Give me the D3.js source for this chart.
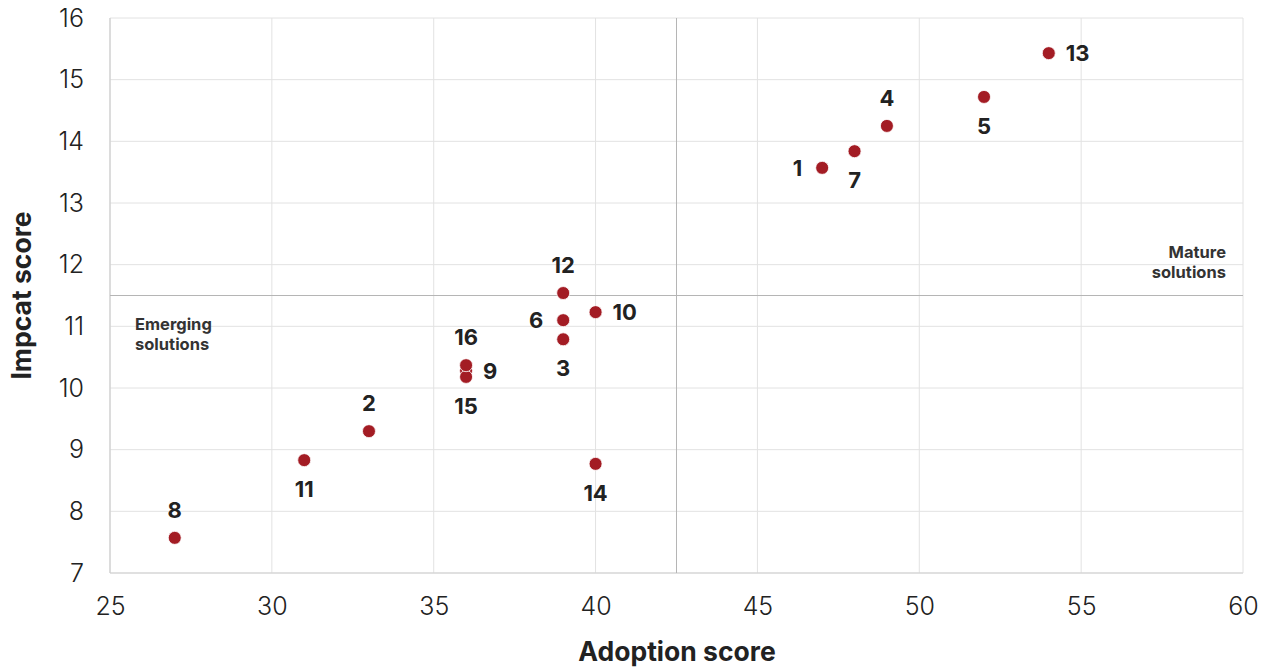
<!DOCTYPE html>
<html><head><meta charset="utf-8">
<script src="https://cdn.jsdelivr.net/npm/d3@7"></script>
<style>body{margin:0;background:#fff}svg{display:block}</style>
</head><body><svg id="c" width="1275" height="668"></svg>
<script>
const ids     = ["1","2","3","4","5","6","7","8","9","10","11","12","13","14","15","16"];
const adoption= [47,33,39,49,52,39,48,27,36,40,31,39,54,40,36,36];
const impact  = [13.57,9.30,10.79,14.25,14.72,11.10,13.84,7.57,10.28,11.23,8.83,11.54,15.43,8.77,10.18,10.37];
const labelPos= ["left","above","below","above","below","left","below","above","right","right","below","above","right","below","below","above"];
const xTicks  = [25,30,35,40,45,50,55,60];
const yTicks  = [7,8,9,10,11,12,13,14,15,16];
const xDivide = 42.5, yDivide = 11.5;

const svg = d3.select("#c");
const L=110,R=1243,T=18,B=573;
const x = d3.scaleLinear().domain([25,60]).range([L,R]);
const y = d3.scaleLinear().domain([7,16]).range([B,T]);
const font = "Inter, 'Noto Sans', sans-serif";

const g = svg.append("g");
g.selectAll(".gx").data(xTicks).join("line")
  .attr("x1",d=>x(d)).attr("x2",d=>x(d)).attr("y1",T).attr("y2",B)
  .attr("stroke","#e2e2e2").attr("stroke-width",1);
g.selectAll(".gy").data(yTicks).join("line")
  .attr("x1",L).attr("x2",R).attr("y1",d=>y(d)).attr("y2",d=>y(d))
  .attr("stroke","#e2e2e2").attr("stroke-width",1);
g.append("line").attr("x1",L).attr("x2",L).attr("y1",T).attr("y2",B).attr("stroke","#cfcfcf").attr("stroke-width",1.2);
g.append("line").attr("x1",L).attr("x2",R).attr("y1",B).attr("y2",B).attr("stroke","#cfcfcf").attr("stroke-width",1.2);
g.append("line").attr("x1",x(xDivide)).attr("x2",x(xDivide)).attr("y1",T).attr("y2",B).attr("stroke","#b5b5b5").attr("stroke-width",1);
g.append("line").attr("x1",L).attr("x2",R).attr("y1",y(yDivide)).attr("y2",y(yDivide)).attr("stroke","#b5b5b5").attr("stroke-width",1);

const xAxis = d3.axisBottom(x).tickValues(xTicks).tickSize(0).tickPadding(24);
const ga = svg.append("g").attr("transform",`translate(0,${B})`).call(xAxis);
ga.select(".domain").remove();
ga.selectAll("text").attr("font-family",font).attr("font-size",25).attr("font-weight",300).attr("fill","#222");
const yAxis = d3.axisLeft(y).tickValues(yTicks).tickSize(0).tickPadding(26);
const gy = svg.append("g").attr("transform",`translate(${L},0)`).call(yAxis);
gy.select(".domain").remove();
gy.selectAll("text").attr("font-family",font).attr("font-size",25).attr("font-weight",300).attr("fill","#222");

svg.append("text").attr("x",677).attr("y",661).attr("text-anchor","middle")
  .attr("font-family",font).attr("font-size",26.5).attr("font-weight",700).attr("fill","#222").text("Adoption score");
svg.append("text").attr("transform",`translate(31,${(T+B)/2}) rotate(-90)`).attr("text-anchor","middle")
  .attr("font-family",font).attr("font-size",26.5).attr("font-weight",700).attr("fill","#222").text("Impcat score");

const ann = svg.append("g").attr("font-family",font).attr("font-size",16.5).attr("font-weight",700).attr("fill","#333");
ann.append("text").attr("x",135).attr("y",330).text("Emerging");
ann.append("text").attr("x",135).attr("y",350).text("solutions");
ann.append("text").attr("x",1226).attr("y",258).attr("text-anchor","end").text("Mature");
ann.append("text").attr("x",1226).attr("y",278).attr("text-anchor","end").text("solutions");

const data = ids.map((id,i)=>({id,x:adoption[i],y:impact[i],pos:labelPos[i]}));
svg.append("g").selectAll("circle").data(data).join("circle")
  .attr("cx",d=>x(d.x)).attr("cy",d=>y(d.y)).attr("r",6.5)
  .attr("fill","#a31c24").attr("stroke","#fff").attr("stroke-width",0.8);

svg.append("g").selectAll("text").data(data).join("text")
  .attr("font-family",font).attr("font-size",22).attr("font-weight",700).attr("fill","#222")
  .attr("text-anchor",d=>d.pos==="left"?"end":d.pos==="right"?"start":"middle")
  .attr("x",d=>x(d.x)+(d.pos==="left"?-20:d.pos==="right"?17:0))
  .attr("y",d=>y(d.y)+(d.pos==="above"?-20:d.pos==="below"?37:8))
  .text(d=>d.id);
</script></body></html>
